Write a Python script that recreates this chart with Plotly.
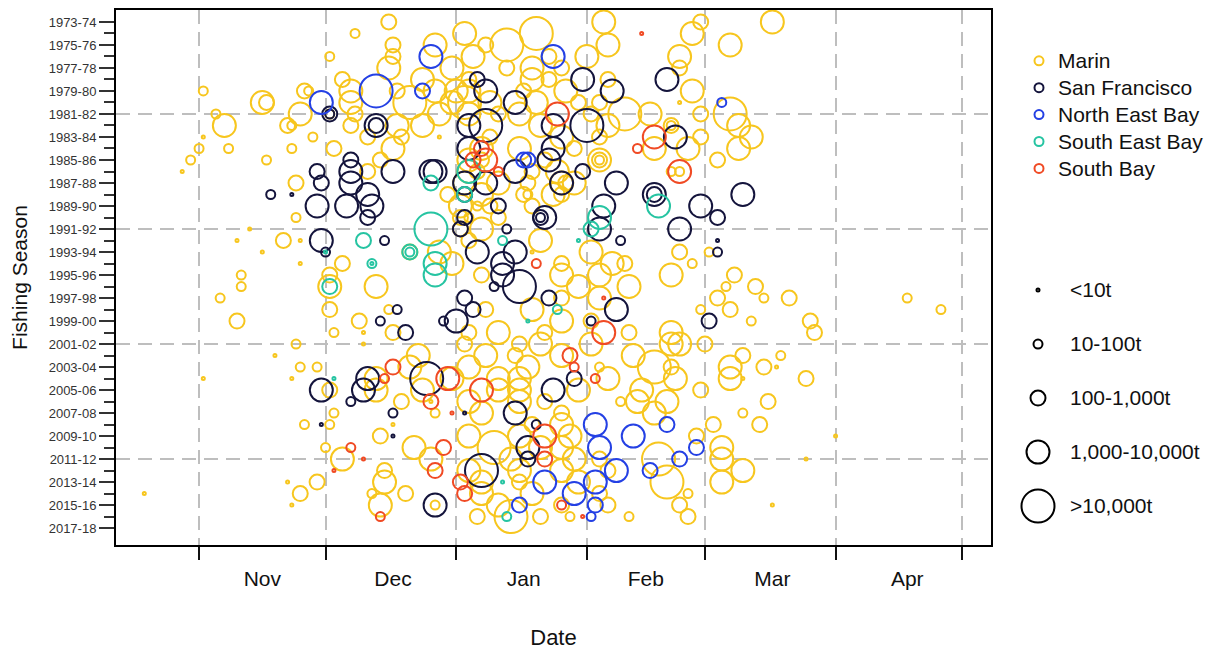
import plotly.graph_objects as go

# ---------------- data (season start year, date MM-DD, catch size class) ----------------
SIZE_LABELS = ["<10t", "10-100t", "100-1,000t", "1,000-10,000t", ">10,000t"]
SIZE_PX = [3, 9, 15, 23, 33]

REGIONS = ["Marin", "San Francisco", "North East Bay", "South East Bay", "South Bay"]
COLORS = ["#F7C61E", "#14143C", "#2440E4", "#26C4A2", "#F04A24"]

MONTH_NAMES = ["Nov", "Dec", "Jan", "Feb", "Mar", "Apr"]
MONTH_LABEL_DATES = ["2000-11-16", "2000-12-17", "2001-01-17", "2001-02-15", "2001-03-17", "2001-04-18"]
MONTH_STARTS = ["2000-11-01", "2000-12-01", "2001-01-01", "2001-02-01", "2001-03-01", "2001-04-01", "2001-05-01"]
DECADE_LINES = [1981, 1991, 2001, 2011]

MARIN = [
    (1973, "12-16", 2), (1973, "02-05", 3), (1973, "02-28", 2), (1973, "03-17", 3),
    (1974, "12-08", 1), (1974, "01-03", 3), (1974, "01-20", 4), (1974, "02-26", 3),
    (1975, "12-17", 2), (1975, "12-27", 3), (1975, "01-13", 4), (1975, "02-06", 3), (1975, "03-07", 3), (1975, "01-08", 2),
    (1976, "12-02", 1), (1976, "12-17", 2), (1976, "01-05", 3), (1976, "02-01", 3), (1976, "02-23", 3), (1976, "01-23", 2),
    (1977, "12-16", 3), (1977, "02-23", 2), (1977, "01-19", 3), (1977, "01-13", 2), (1977, "12-31", 3), (1977, "01-26", 2),
    (1978, "12-05", 2), (1978, "02-06", 2), (1978, "01-19", 3), (1978, "01-04", 2), (1978, "12-24", 3), (1978, "01-23", 2),
    (1979, "11-02", 1), (1979, "11-26", 2), (1979, "11-27", 1), (1979, "12-27", 3), (1979, "01-27", 3), (1979, "02-26", 3),
    (1979, "12-18", 2), (1979, "01-04", 3), (1979, "01-17", 2), (1979, "12-07", 3), (1979, "01-01", 3),
    (1980, "11-16", 3), (1980, "11-17", 2), (1980, "12-07", 3), (1980, "12-21", 4), (1980, "02-23", 0), (1980, "02-04", 2),
    (1980, "01-20", 3), (1980, "01-30", 2), (1980, "01-09", 3), (1980, "12-31", 3), (1980, "01-03", 4),
    (1981, "11-05", 1), (1981, "12-02", 1), (1981, "02-10", 4), (1981, "02-16", 3), (1981, "02-28", 2), (1981, "03-07", 4),
    (1981, "11-25", 3), (1981, "12-08", 2), (1981, "12-28", 3), (1981, "01-11", 2), (1981, "01-04", 3), (1981, "01-16", 3), (1981, "02-02", 2),
    (1982, "11-07", 3), (1982, "11-22", 2), (1982, "11-23", 1), (1982, "12-07", 2), (1982, "12-24", 3), (1982, "02-21", 2),
    (1982, "02-21", 1), (1982, "12-18", 3), (1982, "01-21", 3), (1982, "02-06", 3), (1982, "03-09", 3),
    (1983, "11-02", 0), (1983, "11-28", 1), (1983, "12-11", 2), (1983, "12-28", 0), (1983, "03-12", 3), (1983, "02-28", 2),
    (1983, "01-09", 2), (1983, "02-04", 2), (1983, "01-26", 3), (1983, "12-19", 2),
    (1984, "11-01", 1), (1984, "11-08", 1), (1984, "11-23", 1), (1984, "12-03", 2), (1984, "12-17", 3), (1984, "02-17", 3),
    (1984, "02-25", 3), (1984, "03-09", 3), (1984, "01-07", 3), (1984, "01-16", 3), (1984, "01-29", 2),
    (1985, "10-30", 1), (1985, "11-17", 1), (1985, "02-04", 3), (1985, "02-04", 2), (1985, "02-04", 1), (1985, "03-04", 2),
    (1985, "01-04", 3), (1985, "01-07", 2), (1985, "01-22", 2), (1985, "12-14", 2),
    (1986, "10-28", 0), (1986, "12-11", 2), (1986, "02-23", 1), (1986, "02-21", 1), (1986, "01-04", 3), (1986, "01-19", 2),
    (1986, "01-25", 3), (1986, "01-06", 2),
    (1987, "11-24", 2), (1987, "01-26", 3), (1987, "01-27", 2), (1987, "01-29", 3), (1987, "01-11", 3), (1987, "01-03", 3),
    (1987, "01-18", 2),
    (1988, "01-17", 2), (1988, "01-18", 1), (1988, "01-07", 3), (1988, "12-30", 2), (1988, "01-26", 2), (1988, "01-24", 3),
    (1989, "01-02", 3), (1989, "01-09", 2), (1989, "01-19", 2), (1989, "01-06", 1),
    (1990, "11-24", 1), (1990, "01-11", 2), (1990, "01-02", 2), (1990, "01-04", 1),
    (1991, "11-13", 0), (1991, "01-02", 2), (1991, "01-07", 3),
    (1992, "11-10", 0), (1992, "11-21", 2), (1992, "11-25", 0), (1992, "01-21", 3), (1992, "01-04", 2),
    (1993, "11-16", 0), (1993, "01-19", 0), (1993, "02-02", 3), (1993, "02-23", 2), (1993, "03-02", 1), (1993, "12-21", 2), (1993, "12-28", 3),
    (1994, "11-25", 0), (1994, "12-05", 2), (1994, "01-26", 2), (1994, "02-07", 3), (1994, "02-10", 2), (1994, "02-26", 1), (1994, "12-31", 3),
    (1995, "11-11", 1), (1995, "02-21", 3), (1995, "03-08", 2), (1995, "01-26", 3), (1995, "12-02", 2), (1995, "02-04", 3), (1995, "01-07", 2),
    (1996, "11-11", 1), (1996, "12-02", 3), (1996, "12-13", 3), (1996, "02-11", 3), (1996, "03-06", 1), (1996, "03-13", 2), (1996, "01-30", 3),
    (1997, "11-06", 1), (1997, "03-04", 2), (1997, "03-15", 1), (1997, "03-21", 2), (1997, "04-18", 1), (1997, "02-04", 3), (1997, "01-26", 2),
    (1998, "12-02", 2), (1998, "12-16", 1), (1998, "01-19", 3), (1998, "03-07", 2), (1998, "02-28", 1), (1998, "04-26", 1), (1998, "01-08", 2),
    (1999, "11-10", 2), (1999, "12-09", 2), (1999, "03-12", 1), (1999, "03-26", 2), (1999, "02-02", 2), (1999, "01-26", 3),
    (2000, "12-03", 1), (2000, "12-10", 0), (2000, "12-17", 2), (2000, "01-22", 2), (2000, "02-11", 2), (2000, "02-21", 3),
    (2000, "03-27", 2), (2000, "01-11", 3), (2000, "01-04", 2),
    (2001, "11-24", 1), (2001, "12-10", 0), (2001, "01-03", 2), (2001, "02-02", 3), (2001, "02-21", 3), (2001, "02-23", 3),
    (2001, "03-01", 2), (2001, "01-21", 3), (2001, "01-16", 2),
    (2002, "11-19", 0), (2002, "12-23", 3), (2002, "01-08", 3), (2002, "01-15", 2), (2002, "02-12", 3), (2002, "03-10", 2),
    (2002, "03-19", 1), (2002, "01-26", 3),
    (2003, "11-25", 1), (2003, "11-29", 1), (2003, "01-04", 3), (2003, "01-18", 3), (2003, "02-17", 4), (2003, "02-21", 2),
    (2003, "03-07", 3), (2003, "03-15", 2), (2003, "03-18", 0), (2003, "02-04", 1), (2003, "12-21", 3),
    (2004, "11-02", 0), (2004, "11-23", 0), (2004, "02-22", 3), (2004, "03-07", 3), (2004, "03-25", 2), (2004, "02-06", 3),
    (2004, "03-10", 0), (2004, "12-13", 3), (2004, "01-11", 3), (2004, "01-16", 3), (2004, "12-31", 3),
    (2005, "12-13", 3), (2005, "12-02", 2), (2005, "12-24", 3), (2005, "01-11", 3), (2005, "01-16", 3), (2005, "01-30", 3),
    (2005, "02-14", 3), (2005, "02-28", 2),
    (2006, "12-26", 0), (2006, "02-09", 1), (2006, "02-13", 3), (2006, "02-20", 3), (2006, "03-16", 2), (2006, "01-04", 3),
    (2006, "01-16", 3), (2006, "01-22", 2), (2006, "12-19", 2),
    (2007, "12-03", 1), (2007, "12-27", 1), (2007, "02-17", 3), (2007, "03-10", 1), (2007, "01-07", 3), (2007, "01-26", 2),
    (2008, "11-26", 1), (2008, "12-02", 1), (2008, "12-17", 0), (2008, "03-03", 2), (2008, "03-14", 2), (2008, "01-26", 3), (2008, "01-19", 2),
    (2009, "12-14", 2), (2009, "01-04", 3), (2009, "02-27", 2), (2009, "04-01", 0), (2009, "01-16", 3), (2009, "01-28", 3),
    (2010, "12-01", 1), (2010, "12-22", 3), (2010, "01-10", 4), (2010, "03-05", 3), (2010, "01-26", 3), (2010, "01-21", 3),
    (2011, "12-05", 3), (2011, "12-26", 3), (2011, "01-29", 3), (2011, "02-18", 4), (2011, "03-05", 3), (2011, "03-25", 0),
    (2011, "01-14", 3), (2011, "02-04", 2),
    (2012, "12-15", 2), (2012, "03-10", 3), (2012, "01-04", 3), (2012, "01-16", 3), (2012, "01-26", 3), (2012, "02-06", 2),
    (2013, "11-22", 0), (2013, "11-29", 2), (2013, "12-15", 3), (2013, "02-20", 4), (2013, "03-05", 3), (2013, "01-07", 3),
    (2013, "01-16", 2), (2013, "01-30", 3),
    (2014, "10-19", 0), (2014, "11-25", 2), (2014, "12-12", 1), (2014, "12-20", 2), (2014, "01-19", 3), (2014, "02-25", 1),
    (2014, "01-07", 3), (2014, "02-04", 2),
    (2015, "11-23", 0), (2015, "12-14", 3), (2015, "02-06", 2), (2015, "02-23", 2), (2015, "03-17", 0), (2015, "12-27", 1),
    (2015, "01-11", 3), (2015, "01-26", 2),
    (2016, "01-06", 2), (2016, "01-14", 4), (2016, "01-28", 1), (2016, "02-11", 1), (2016, "02-25", 2), (2016, "01-21", 2),
]

SAN_FRANCISCO = [
    (1978, "01-06", 2), (1978, "01-31", 3), (1978, "02-20", 3),
    (1979, "01-08", 3), (1979, "02-07", 3),
    (1980, "01-15", 3),
    (1981, "12-02", 2), (1981, "12-02", 1),
    (1982, "12-13", 3), (1982, "12-13", 2), (1982, "01-04", 3), (1982, "01-08", 4), (1982, "01-24", 3), (1982, "02-01", 4),
    (1983, "02-22", 3),
    (1984, "01-24", 3), (1984, "01-04", 3),
    (1985, "01-23", 3), (1985, "12-07", 2),
    (1986, "11-29", 2), (1986, "12-17", 3), (1986, "12-26", 3), (1986, "12-27", 3), (1986, "01-15", 3), (1986, "01-31", 2), (1986, "12-07", 3),
    (1987, "11-30", 2), (1987, "12-07", 3), (1987, "01-03", 3), (1987, "01-08", 3), (1987, "01-26", 3), (1987, "02-08", 3),
    (1988, "11-18", 1), (1988, "11-23", 0), (1988, "12-11", 3), (1988, "01-03", 2), (1988, "02-17", 3), (1988, "02-17", 2), (1988, "03-10", 3),
    (1989, "11-29", 3), (1989, "12-06", 3), (1989, "12-12", 3), (1989, "01-11", 2), (1989, "02-05", 3), (1989, "02-28", 3),
    (1990, "12-11", 2), (1990, "01-03", 2), (1990, "01-21", 2), (1990, "01-21", 1), (1990, "01-22", 3), (1990, "03-04", 2),
    (1991, "01-02", 2), (1991, "01-13", 1), (1991, "02-04", 3), (1991, "02-23", 3),
    (1992, "11-30", 3), (1992, "12-15", 1), (1992, "02-09", 1), (1992, "03-04", 0),
    (1993, "12-01", 1), (1993, "01-06", 3), (1993, "01-15", 3), (1993, "03-04", 1),
    (1994, "01-12", 3),
    (1995, "01-12", 3),
    (1996, "01-10", 1), (1996, "01-16", 4),
    (1997, "01-03", 2), (1997, "01-23", 2),
    (1998, "12-18", 1), (1998, "01-05", 2), (1998, "02-08", 3),
    (1999, "12-14", 1), (1999, "12-29", 1), (1999, "01-01", 3), (1999, "02-02", 1), (1999, "03-02", 2),
    (2000, "12-20", 2),
    (2004, "12-11", 3), (2004, "12-25", 4), (2004, "01-29", 2),
    (2005, "11-30", 3), (2005, "12-10", 3), (2005, "01-24", 3),
    (2006, "12-07", 1),
    (2007, "12-17", 1), (2007, "01-03", 0), (2007, "01-15", 3),
    (2008, "11-30", 0), (2008, "01-20", 1),
    (2009, "12-17", 0),
    (2010, "01-18", 3),
    (2011, "01-18", 2),
    (2012, "01-07", 4),
    (2015, "12-27", 3),
]

NORTH_EAST_BAY = [
    (1976, "12-26", 3), (1976, "01-24", 3),
    (1979, "12-13", 4), (1979, "12-24", 2),
    (1980, "11-30", 3), (1980, "03-05", 1),
    (1985, "01-18", 2), (1985, "01-17", 2),
    (2008, "02-03", 3), (2008, "02-20", 2),
    (2009, "02-12", 3),
    (2010, "02-04", 3), (2010, "02-27", 2),
    (2011, "02-23", 2),
    (2012, "02-08", 3), (2012, "02-16", 2),
    (2013, "01-22", 3), (2013, "02-03", 3),
    (2014, "01-29", 3),
    (2015, "01-16", 2), (2015, "02-03", 2),
    (2016, "02-02", 1),
]

SOUTH_EAST_BAY = [
    (1986, "01-04", 3),
    (1987, "12-26", 2),
    (1988, "01-03", 2),
    (1989, "02-18", 3),
    (1990, "02-04", 3),
    (1991, "12-26", 4), (1991, "02-02", 2),
    (1992, "12-10", 2), (1992, "01-12", 1), (1992, "01-30", 0),
    (1993, "12-21", 2), (1993, "12-21", 1), (1993, "12-01", 0),
    (1994, "12-12", 1), (1994, "12-12", 0), (1994, "12-27", 3),
    (1995, "12-27", 3),
    (1996, "12-02", 2),
    (1998, "01-25", 1),
    (1999, "01-18", 0),
    (2004, "12-03", 0),
    (2013, "01-12", 0),
    (2016, "01-13", 1),
]

SOUTH_BAY = [
    (1974, "02-14", 0),
    (1981, "01-25", 3),
    (1983, "02-17", 3),
    (1984, "01-07", 2), (1984, "02-13", 1),
    (1985, "01-05", 2), (1985, "01-08", 3),
    (1986, "01-11", 1), (1986, "02-23", 3),
    (1994, "01-20", 1),
    (1997, "02-05", 0),
    (2000, "02-05", 3),
    (2002, "01-28", 2),
    (2003, "12-17", 2), (2003, "01-29", 1),
    (2004, "12-15", 1), (2004, "12-30", 3), (2004, "02-03", 1),
    (2005, "01-07", 3),
    (2006, "12-26", 2),
    (2007, "12-31", 0),
    (2009, "01-22", 3),
    (2010, "12-07", 1), (2010, "12-29", 2),
    (2011, "12-10", 0), (2011, "01-22", 2),
    (2012, "12-03", 0), (2012, "12-27", 2),
    (2013, "01-02", 2),
    (2014, "01-03", 2),
    (2015, "01-26", 1),
    (2016, "12-14", 1), (2016, "01-31", 0),
]

REGION_DATA = [MARIN, SAN_FRANCISCO, NORTH_EAST_BAY, SOUTH_EAST_BAY, SOUTH_BAY]

SEASONS = list(range(1973, 2018))
SEASON_TICKS = SEASONS[::2]


def season_label(y):
    return f"{y}-{(y + 1) % 100:02d}"


def to_date(md):
    # place every season on one common Oct-May time line
    month = int(md[:2])
    return f"{2000 if month >= 10 else 2001}-{md}"


# ---------------- figure ----------------
fig = go.Figure()

for name, color, rows in zip(REGIONS, COLORS, REGION_DATA):
    fig.add_trace(go.Scatter(
        x=[to_date(r[1]) for r in rows],
        y=[r[0] for r in rows],
        mode="markers",
        name=name,
        showlegend=False,
        marker=dict(
            symbol="circle-open",
            size=[SIZE_PX[r[2]] for r in rows],
            color=color,
            opacity=1,
            line=dict(width=2, color=color),
        ),
        customdata=[[season_label(r[0]), SIZE_LABELS[r[2]]] for r in rows],
        hovertemplate=name + "<br>%{customdata[0]}<br>%{x|%b %d}<br>%{customdata[1]}<extra></extra>",
    ))

# region key: coloured rings on x4/y4, region names as y4 tick labels
fig.add_trace(go.Scatter(
    x=[0] * len(REGIONS),
    y=REGIONS,
    mode="markers",
    marker=dict(symbol="circle-open", size=9, color=COLORS, opacity=1,
                line=dict(width=2, color=COLORS)),
    xaxis="x4", yaxis="y4", showlegend=False, hoverinfo="skip",
))

# size key: black rings on x3/y3, size classes as y3 tick labels
fig.add_trace(go.Scatter(
    x=[0] * len(SIZE_LABELS),
    y=SIZE_LABELS,
    mode="markers",
    marker=dict(symbol="circle-open", size=SIZE_PX, color="black", opacity=1,
                line=dict(width=2, color="black")),
    xaxis="x3", yaxis="y3", showlegend=False, hoverinfo="skip",
))

GRID_COLOR = "#BEBEBE"
GRID_DASH = "14px,8px"

shapes = [
    dict(type="line", xref="x domain", x0=0, x1=1, yref="y", y0=yv, y1=yv,
         line=dict(color=GRID_COLOR, width=2, dash=GRID_DASH), layer="below")
    for yv in DECADE_LINES
]

# the page body adds an 8px offset; layout numbers below are in page pixels
OFF = 8
FIG_W, FIG_H = 1221 - OFF, 650 - OFF
PLOT_L, PLOT_T, PLOT_B = 116, 8, 545
L = PLOT_L - OFF
T = PLOT_T - OFF
B = FIG_H - (PLOT_B - OFF)
R = 3
PW = FIG_W - L - R
PH = FIG_H - T - B


def fx(px):
    return (px - PLOT_L) / PW


def fy(py):
    return (PLOT_B - py) / PH


KEY_FONT = dict(size=21, color="#111111")

fig.update_layout(
    width=FIG_W, height=FIG_H,
    margin=dict(l=L, r=R, t=T, b=B),
    plot_bgcolor="white", paper_bgcolor="white",
    font=dict(family="Liberation Sans, Arial, sans-serif", color="#222222"),
    shapes=shapes,
    showlegend=False,
    xaxis=dict(
        domain=[0, fx(991)],
        type="date",
        range=["2000-10-12 07:00", "2001-05-07 21:00"],
        tickmode="array", tickvals=MONTH_LABEL_DATES, ticktext=MONTH_NAMES,
        ticks="outside", ticklen=14, tickcolor="rgba(0,0,0,0)",
        tickfont=dict(size=21, color="#111111"),
        showgrid=False, zeroline=False,
        showline=True, linecolor="black", linewidth=2, mirror=True,
        minor=dict(
            tickmode="array", tickvals=MONTH_STARTS,
            ticks="outside", ticklen=13, tickwidth=2, tickcolor="#111111",
            showgrid=True, gridcolor=GRID_COLOR, gridwidth=2, griddash=GRID_DASH,
        ),
        title=dict(text="Date", font=dict(size=22, color="#111111"), standoff=41),
    ),
    yaxis=dict(
        range=[2018.47, 1971.96],
        tickmode="array", tickvals=SEASON_TICKS, ticktext=[season_label(s) for s in SEASON_TICKS],
        ticks="outside", ticklen=15, tickwidth=1.5, tickcolor="#333333",
        tickfont=dict(size=13, color="#333333"),
        showgrid=False, zeroline=False,
        showline=True, linecolor="black", linewidth=2, mirror=True,
        minor=dict(tickmode="array", tickvals=SEASONS, ticks="outside", ticklen=10,
                   tickwidth=1.5, tickcolor="#333333", showgrid=False),
        title=dict(text="Fishing Season", font=dict(size=21, color="#111111"), standoff=16),
    ),
    xaxis3=dict(domain=[fx(1007), fx(1069)], range=[-1, 1], visible=False, anchor="y3"),
    yaxis3=dict(
        domain=[fy(533), fy(262)], anchor="x3", side="right",
        type="category", categoryorder="array", categoryarray=SIZE_LABELS,
        range=[4.5, -0.5],
        showgrid=False, zeroline=False, showline=False, ticks="",
        tickfont=KEY_FONT,
    ),
    xaxis4=dict(domain=[fx(1021), fx(1057)], range=[-1, 1], visible=False, anchor="y4"),
    yaxis4=dict(
        domain=[fy(180.5), fy(45.5)], anchor="x4", side="right",
        type="category", categoryorder="array", categoryarray=REGIONS,
        range=[4.5, -0.5],
        showgrid=False, zeroline=False, showline=False, ticks="",
        tickfont=KEY_FONT,
    ),
)

fig.write_html("out.html")
